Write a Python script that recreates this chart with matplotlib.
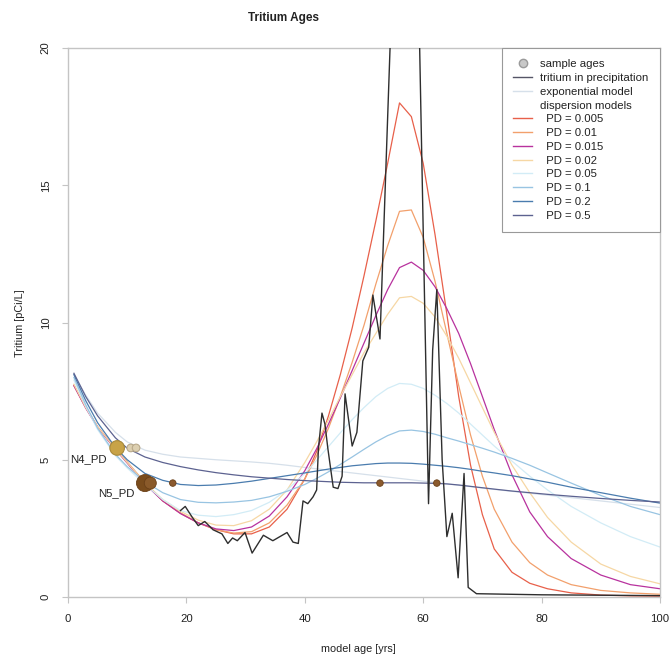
import matplotlib
matplotlib.use("Agg")
import matplotlib.pyplot as plt
from matplotlib.lines import Line2D

plt.rcParams['font.family'] = ['Liberation Sans', 'DejaVu Sans']

# model ages (years) shared by all model curves
yrs = [1, 3, 5, 8, 10, 13, 16, 19, 22, 25, 28, 31, 34, 37, 40, 42, 44, 46, 48, 50,
       52, 54, 56, 58, 60, 62, 64, 66, 68, 70, 72, 75, 78, 81, 85, 90, 95, 100]

exp_model = [8.1, 7.35, 6.7, 6.0, 5.65, 5.35, 5.2, 5.1, 5.05, 5.0,
             4.96, 4.92, 4.87, 4.8, 4.72, 4.67, 4.62, 4.57, 4.52, 4.47,
             4.42, 4.37, 4.32, 4.27, 4.22, 4.17, 4.12, 4.07, 4.02, 3.97,
             3.92, 3.85, 3.78, 3.71, 3.62, 3.5, 3.38, 3.26]
pd_0005 = [7.7, 6.9, 6.2, 5.4, 4.9, 4.15, 3.5, 3.05, 2.7, 2.45,
           2.3, 2.3, 2.55, 3.2, 4.3, 5.3, 6.6, 8.1, 9.8, 11.7,
           13.7, 15.8, 18.0, 17.5, 15.8, 13.2, 10.3, 7.3, 4.8, 3.0,
           1.75, 0.9, 0.5, 0.3, 0.15, 0.07, 0.04, 0.03]
pd_001 = [7.72, 6.92, 6.2, 5.42, 4.92, 4.17, 3.52, 3.06, 2.7, 2.45,
          2.33, 2.38, 2.7, 3.35, 4.3, 5.15, 6.15, 7.3, 8.55, 9.9,
          11.4, 12.8, 14.05, 14.1, 13.1, 11.5, 9.6, 7.7, 5.9, 4.4,
          3.2, 2.0, 1.25, 0.8, 0.45, 0.24, 0.15, 0.1]
pd_0015 = [7.7, 6.88, 6.18, 5.38, 4.88, 4.12, 3.5, 3.04, 2.7, 2.48,
           2.42, 2.55, 2.95, 3.65, 4.6, 5.4, 6.3, 7.25, 8.25, 9.25,
           10.25, 11.2, 12.0, 12.2, 11.9, 11.3, 10.5, 9.6, 8.5, 7.3,
           6.1, 4.45, 3.1, 2.2, 1.4, 0.8, 0.45, 0.3]
pd_002 = [7.75, 6.9, 6.2, 5.4, 4.9, 4.15, 3.55, 3.12, 2.8, 2.62,
          2.6, 2.78, 3.2, 3.9, 4.9, 5.65, 6.45, 7.3, 8.1, 8.9,
          9.6, 10.3, 10.9, 10.95, 10.7, 10.2, 9.5, 8.7, 7.8, 6.9,
          6.0, 4.8, 3.8, 2.9, 2.0, 1.2, 0.75, 0.48]
pd_005 = [7.9, 6.95, 6.1, 5.15, 4.7, 4.1, 3.55, 3.15, 2.98, 2.93,
          3.0, 3.15, 3.45, 3.9, 4.5, 4.98, 5.48, 5.98, 6.46, 6.9,
          7.3, 7.6, 7.78, 7.75, 7.6, 7.35, 7.05, 6.7, 6.3, 5.9,
          5.5, 4.95, 4.4, 3.9, 3.3, 2.7, 2.2, 1.82]
pd_01 = [8.0, 7.0, 6.15, 5.2, 4.75, 4.2, 3.8, 3.55, 3.45, 3.43,
         3.46, 3.52, 3.65, 3.85, 4.1, 4.32, 4.56, 4.83, 5.1, 5.38,
         5.65, 5.88, 6.05, 6.08, 6.03, 5.93, 5.8, 5.68, 5.55, 5.42,
         5.28, 5.05, 4.8, 4.52, 4.15, 3.7, 3.3, 3.0]
pd_02 = [8.1, 7.15, 6.35, 5.45, 5.0, 4.5, 4.25, 4.1, 4.06, 4.08,
         4.14, 4.22, 4.32, 4.42, 4.52, 4.59, 4.66, 4.72, 4.78, 4.82,
         4.86, 4.88, 4.88, 4.87, 4.84, 4.8, 4.76, 4.71, 4.65, 4.58,
         4.52, 4.42, 4.3, 4.18, 4.0, 3.8, 3.6, 3.42]
pd_05 = [8.15, 7.3, 6.6, 5.8, 5.42, 5.1, 4.9, 4.75, 4.63, 4.53,
         4.45, 4.38, 4.33, 4.28, 4.24, 4.22, 4.2, 4.18, 4.17, 4.16,
         4.16, 4.16, 4.16, 4.16, 4.15, 4.14, 4.12, 4.08, 4.03, 3.98,
         3.93, 3.86, 3.8, 3.74, 3.67, 3.59, 3.52, 3.46]

# tritium in precipitation, decayed to sampling date
tr_yr = [19.0, 19.8, 21.0, 22.0, 23.1, 24.5, 26.0, 27.0, 27.8, 28.6, 29.9, 31.1,
         33.0, 34.6, 35.8, 37.0, 38.0, 38.9, 39.7, 40.5, 41.4, 42.0, 42.3, 42.9,
         43.4, 43.9, 44.8, 45.6, 46.3, 46.8, 48.0, 48.8, 49.8, 50.8, 51.5, 52.7,
         54.4, 55.5, 57.0, 58.5, 60.9, 61.6, 62.3, 63.2, 64.0, 64.9, 65.9, 66.9,
         67.6, 69.0, 80.0, 100.0]
tr_val = [3.15, 3.3, 2.9, 2.6, 2.75, 2.45, 2.3, 1.95, 2.15, 2.05, 2.35, 1.6,
          2.25, 2.05, 2.2, 2.35, 2.0, 1.95, 3.5, 3.4, 3.65, 3.9, 5.4, 6.7,
          6.3, 5.4, 4.0, 3.95, 4.4, 7.4, 5.5, 6.0, 8.6, 9.1, 11.0, 9.4,
          20.0, 27.0, 38.0, 30.0, 3.4, 9.0, 11.2, 5.0, 2.2, 3.05, 0.7, 4.5,
          0.35, 0.12, 0.08, 0.05]

# sample ages read against each model
n4_tritium = 5.43
n4_ages = [8.3, 10.6, 11.5]
n5_tritium = 4.15
n5_ages = [13.0, 13.9, 17.7, 52.7, 62.3]

models = [
    ("exponential model", exp_model, "#d6e0ea"),
    ("  PD = 0.005", pd_0005, "#e8604a"),
    ("  PD = 0.01", pd_001, "#f2a06c"),
    ("  PD = 0.015", pd_0015, "#b8329e"),
    ("  PD = 0.02", pd_002, "#f6d7a4"),
    ("  PD = 0.05", pd_005, "#d2ecf6"),
    ("  PD = 0.1", pd_01, "#98c4e2"),
    ("  PD = 0.2", pd_02, "#4a7cae"),
    ("  PD = 0.5", pd_05, "#5c6290"),
]

fig = plt.figure(figsize=(6.71, 6.56), dpi=100)
ax = fig.add_axes([68 / 671, 1 - 597 / 656, 592 / 671, 549 / 656])

ax.plot(tr_yr, tr_val, color="#2e2e2e", lw=1.0, zorder=3)
for name, vals, col in models:
    ax.plot(yrs, vals, color=col, lw=0.9, zorder=2)

# sample points
ax.scatter(n4_ages, [n4_tritium] * len(n4_ages), s=[110, 30, 30],
           c=["#c8a347", "#dccfb0", "#dccfb0"],
           edgecolors=["#a88a3a", "#b9a98a", "#b9a98a"], linewidths=0.8, zorder=5)
ax.scatter(n5_ages, [n5_tritium] * len(n5_ages), s=[150, 75, 22, 22, 22],
           c=["#7a4c1c", "#8a5a2a", "#8b5a2e", "#8b5a2e", "#8b5a2e"],
           edgecolors="#6a4018", linewidths=0.6, zorder=5)
ax.text(3.4, 5.03, "N4_PD", ha="center", va="center", fontsize=8.2, color="#222222")
ax.text(8.1, 3.79, "N5_PD", ha="center", va="center", fontsize=8.2, color="#222222")

ax.set_xlim(0, 100)
ax.set_ylim(0, 20)
ax.set_xticks([0, 20, 40, 60, 80, 100])
ax.set_yticks([0, 5, 10, 15, 20])
ax.set_yticklabels(["0", "5", "10", "15", "20"], rotation=90, va="center")
for sp in ax.spines.values():
    sp.set_color("#c4c4c4")
    sp.set_linewidth(1.0)
ax.tick_params(direction="out", length=4.5, width=0.8, color="#c4c4c4",
               labelsize=8.2, labelcolor="#222222")
ax.tick_params(axis="x", pad=7.5)
ax.tick_params(axis="y", pad=8)

handles = [Line2D([], [], marker="o", ls="none", markersize=6,
                  markerfacecolor="#c8c8c8", markeredgecolor="#9a9a9a"),
           Line2D([], [], color="#555566", lw=1.0),
           Line2D([], [], color=models[0][2], lw=1.0),
           Line2D([], [], ls="none")]
labels = ["sample ages", "tritium in precipitation", "exponential model", "dispersion models"]
for name, vals, col in models[1:]:
    handles.append(Line2D([], [], color=col, lw=1.0))
    labels.append(name)
leg = ax.legend(handles, labels, loc="upper right", borderaxespad=0, fontsize=8.2,
                frameon=True, fancybox=False, framealpha=1, edgecolor="#999999",
                borderpad=1.0, handlelength=1.7, handletextpad=0.7, labelspacing=0.33)
leg.get_frame().set_linewidth(0.8)
for t in leg.get_texts():
    t.set_color("#222222")

fig.text(283 / 671, 1 - 18 / 656, "Tritium Ages", ha="center", va="center",
         fontsize=8.5, fontweight="bold", color="#222222")
fig.text(358 / 671, 1 - 649 / 656, "model age [yrs]", ha="center", va="center",
         fontsize=7.8, color="#222222")
fig.text(20 / 671, 1 - 323 / 656, "Tritium [pCi/L]", ha="center", va="center",
         rotation=90, fontsize=7.8, color="#222222")

fig.savefig("out.png", dpi=100)
